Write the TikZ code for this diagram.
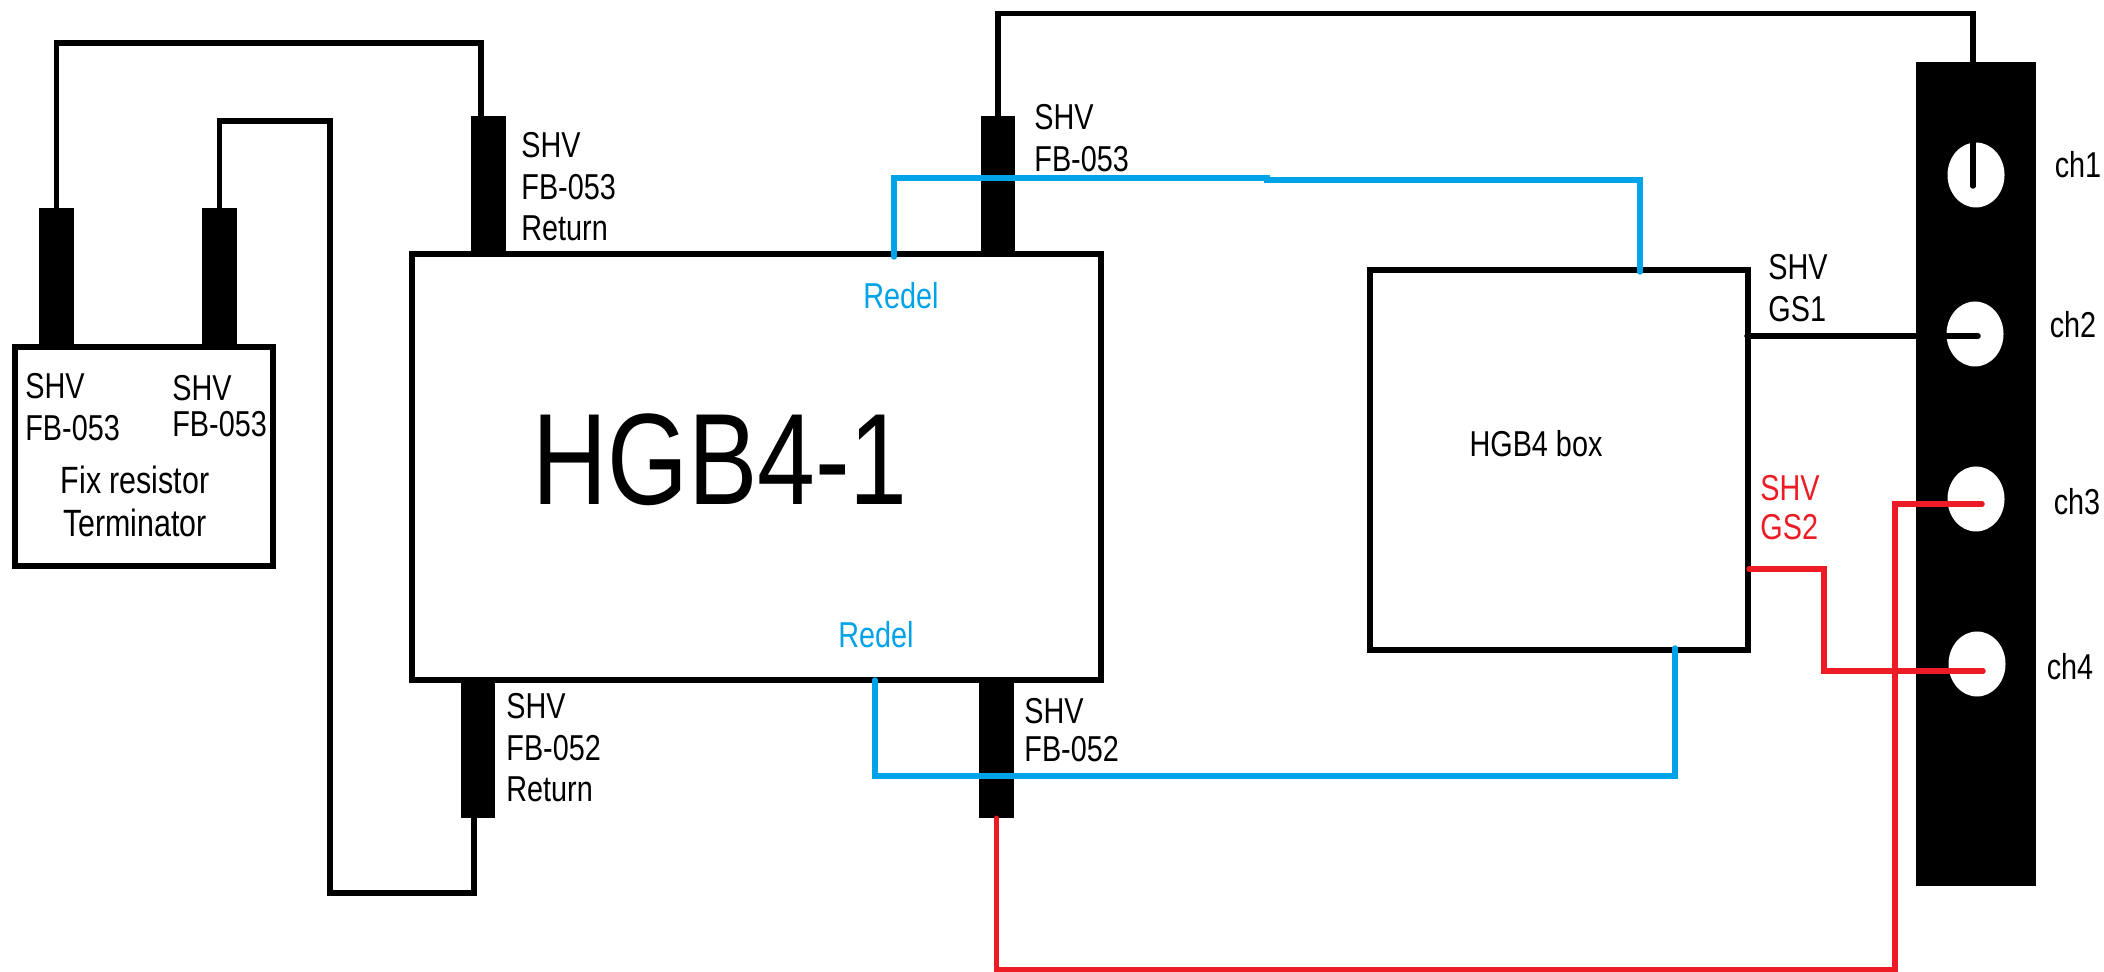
\documentclass[tikz,border=0pt]{standalone}
\usepackage{fontspec}
\setmainfont{Liberation Sans}[FakeStretch=0.8]
\usepackage{xcolor}
\usetikzlibrary{shapes.geometric}
\definecolor{azul}{HTML}{00A2E8}
\definecolor{rojo}{HTML}{ED1C24}
\tikzset{
  box/.style={draw=black, line width=2.75pt, fill=white, inner sep=0pt, outer sep=0pt},
  plug/.style={fill=black, inner sep=0pt, outer sep=0pt, minimum width=17.25pt, minimum height=69.25pt},
  hole/.style={ellipse, fill=white, inner sep=0pt, outer sep=0pt, minimum width=28.5pt, minimum height=32.5pt},
  wire/.style={line width=2.75pt, line cap=round, black},
  bluewire/.style={line width=2.75pt, line cap=round, azul},
  redwire/.style={line width=2.75pt, line cap=round, rojo},
  lbl/.style={anchor=north west, inner sep=0pt, align=left, font=\fontsize{18}{20.8}\selectfont},
  mid/.style={inner sep=0pt, align=center, font=\fontsize{18}{21.5}\selectfont}
}
\begin{document}
\begin{tikzpicture}[x=0.5pt, y=-0.5pt]
  \useasboundingbox (0,0) rectangle (2104,972);
  % boxes
  \node[box, minimum width=129pt, minimum height=109.5pt] (fixres) at (144,456.5) {};
  \node[box, minimum width=344.5pt, minimum height=213pt] (hgbone) at (756.5,467) {};
  \node[box, minimum width=189pt, minimum height=190pt] (hgbbox) at (1559,460) {};
  % plugs
  \foreach \x/\y/\n in {56.5/277.5/plugA, 219.5/277.5/plugB, 488.5/185/plugRetA,
                        998/185/plugFBA, 478/749/plugRetB, 996.5/749/plugFBB}{
    \node[plug] (\n) at (\x,\y) {};
  }
  % channel panel
  \node[fill=black, inner sep=0pt, outer sep=0pt, minimum width=60pt, minimum height=412pt] (panel) at (1976,474) {};
  \foreach \x/\y/\n in {1976/175/holeA, 1975/334/holeB, 1976/499/holeC, 1977/664/holeD}{
    \node[hole] (\n) at (\x,\y) {};
  }
  % wire ends
  \coordinate (retTop) at (481,116);
  \coordinate (retBot) at (474,818);
  \coordinate (panelTap) at (1973,62);
  \coordinate (tipA) at (1973,186);
  \coordinate (boxGS) at (1747,336);
  \coordinate (tipB) at (1978,336);
  \coordinate (redTop) at (1895,504);
  \coordinate (tipC) at (1982,504);
  \coordinate (boxGT) at (1749,569);
  \coordinate (tipD) at (1983,671);
  \coordinate (redelA) at (894,257);
  \coordinate (jogL) at (1267,178);
  \coordinate (jogR) at (1267,180);
  \coordinate (boxTap) at (1640,272);
  \coordinate (redelB) at (875,680);
  \coordinate (boxBot) at (1675,648);
  % black wires
  \draw[wire] (plugA.north) -- ++(0,-165) -| (retTop);
  \draw[wire] (plugB.north) -- ++(0,-87) -| (330,893) -| (retBot);
  \draw[wire] (plugFBA.north) -- ++(0,-102) -| (tipA);
  \draw[wire] (boxGS) -- (tipB);
  % blue wires
  \draw[bluewire] (redelA) |- (jogL) -- (jogR) -| (boxTap);
  \draw[bluewire] (redelB) -- ++(0,96) -| (boxBot);
  % red wires
  \draw[redwire] (plugFBB.south) -- ++(0,151) -| (redTop) -- (tipC);
  \draw[redwire] (boxGT) -- ++(75,0) |- (tipD);
  % labels
  \node[lbl] (lblA) at (25,373) {SHV\\FB-053};
  \node[lbl] (lblB) at (172,375) {SHV\\[-3pt]FB-053};
  \node[mid, font=\fontsize{19}{21.5}\selectfont] (lblFix) at (135,501) {Fix resistor\\Terminator};
  \node[lbl] (lblRetA) at (521,132) {SHV\\FB-053\\Return};
  \node[lbl] (lblFBA) at (1034,104) {SHV\\FB-053};
  \node[lbl] (lblRetB) at (506,693) {SHV\\FB-052\\Return};
  \node[lbl] (lblFBB) at (1024,698) {SHV\\[-2pt]FB-052};
  \node[lbl] (lblGS) at (1768,254) {SHV\\GS1};
  \node[lbl, text=rojo] (lblGT) at (1760,475) {SHV\\[-1.5pt]GS2};
  \node[mid, text=azul] (redelTxtA) at (901,296) {Redel};
  \node[mid, text=azul] (redelTxtB) at (876,635) {Redel};
  \node[mid, font=\fontsize{65}{65}\selectfont] (hgbTxt) at (720,460) {HGB4-1};
  \node[mid] (boxTxt) at (1536,444) {HGB4 box};
  \foreach \x/\y/\n in {2078/165/ch1, 2073/325/ch2, 2077/502/ch3, 2070/667/ch4}{
    \node[mid] (\n) at (\x,\y) {\n};
  }
\end{tikzpicture}
\end{document}
